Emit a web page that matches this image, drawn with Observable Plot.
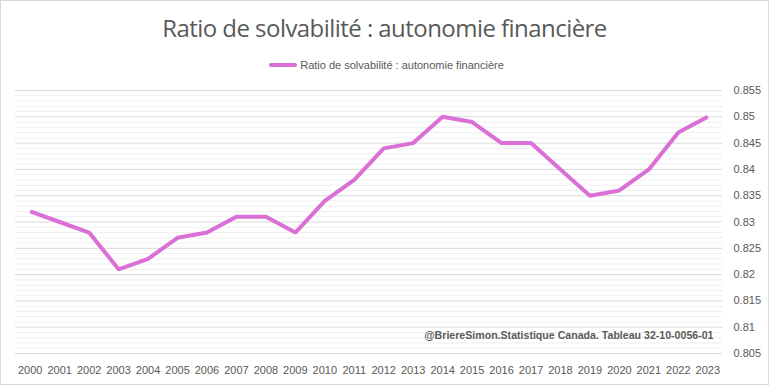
<!DOCTYPE html>
<html><head><meta charset="utf-8">
<script src="https://cdn.jsdelivr.net/npm/d3@7"></script>
<script src="https://cdn.jsdelivr.net/npm/@observablehq/plot@0.6"></script>
<style>
html,body{margin:0;padding:0;background:#fff;}
#chart{box-sizing:border-box;width:769px;height:385px;border:1px solid #d9d9d9;background:#fff;font-family:"Liberation Sans",Arial,sans-serif;overflow:hidden;}
#title{height:52px;line-height:54px;text-align:center;font-family:"Open Sans","Liberation Sans",sans-serif;font-size:24px;color:#595959;letter-spacing:-0.55px;}
#legend{height:24px;display:flex;align-items:center;justify-content:center;font-size:11px;color:#595959;padding-left:4px;}
#legend .sw{display:inline-block;width:28px;height:4px;background:#DA70D6;margin-right:3px;border-radius:2px;}
</style></head>
<body>
<div id="chart">
<div id="title">Ratio de solvabilité : autonomie financière</div>
<div id="legend"><span class="sw"></span><span>Ratio de solvabilité : autonomie financière</span></div>
<div id="plot"></div>
</div>
<script>
const years = ["2000","2001","2002","2003","2004","2005","2006","2007","2008","2009","2010","2011","2012","2013","2014","2015","2016","2017","2018","2019","2020","2021","2022","2023"];
const ratio = [0.832,0.830,0.828,0.821,0.823,0.827,0.828,0.831,0.831,0.828,0.834,0.838,0.844,0.845,0.850,0.849,0.845,0.845,0.840,0.835,0.836,0.840,0.847,0.850];
const yTicks = [0.805,0.81,0.815,0.82,0.825,0.83,0.835,0.84,0.845,0.85,0.855];
const seriesName = "Ratio de solvabilité : autonomie financière";
const caption = "@BriereSimon.Statistique Canada. Tableau 32-10-0056-01";

const data = years.map((y,i)=>({year:y, value:ratio[i]}));
const minorTicks = d3.range(805,856).map(v=>v/1000).filter(v=>!yTicks.some(t=>Math.abs(t-v)<1e-9));

const chart = Plot.plot({
  width: 767,
  height: 307,
  marginTop: 13,
  marginBottom: 31,
  marginLeft: 14,
  marginRight: 46,
  style: {fontFamily: '"Liberation Sans", Arial, sans-serif', fontSize: "11px", color: "#595959", background: "#fff"},
  x: {type: "point", domain: years, padding: 0.5, round: false, label: null},
  y: {domain: [0.805, 0.855], label: null},
  marks: [
    Plot.ruleY(minorTicks, {stroke: "#efefef", strokeWidth: 1}),
    Plot.ruleY(yTicks, {stroke: "#d9d9d9", strokeWidth: 1}),
    Plot.axisX({tickSize: 0, tickPadding: 13, fill: "#595959"}),
    Plot.axisY({anchor: "right", ticks: yTicks, tickSize: 0, tickPadding: 11, tickFormat: d => String(+d.toFixed(3)), fill: "#595959"}),
    Plot.line(data, {x: "year", y: "value", stroke: "#DA70D6", strokeWidth: 4, strokeLinejoin: "miter", strokeLinecap: "butt"}),
    Plot.text([caption], {frameAnchor: "bottom-right", text: d => d, dx: -9, dy: -15, fontWeight: "bold", fill: "#595959", fontSize: 10.6})
  ]
});
document.getElementById("plot").appendChild(chart);
</script>
</body></html>
